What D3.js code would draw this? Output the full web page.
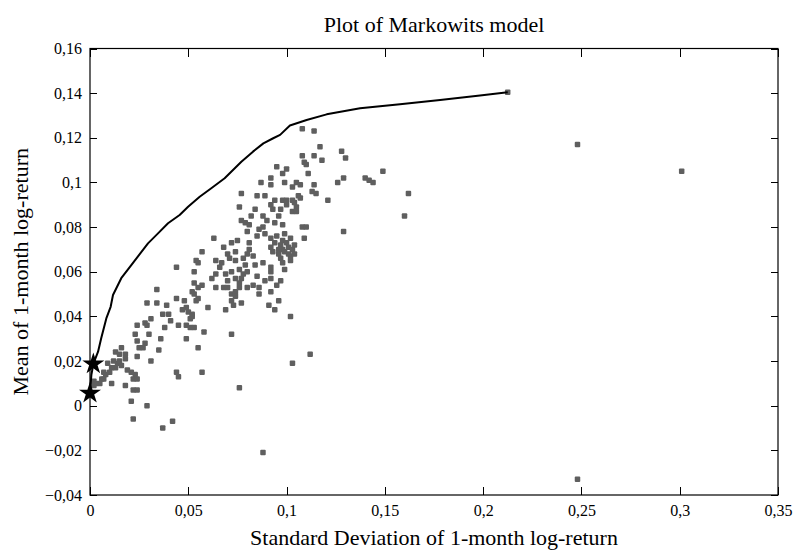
<!DOCTYPE html>
<html><head><meta charset="utf-8">
<script src="https://cdn.jsdelivr.net/npm/d3@7"></script>
<style>body{margin:0;background:#fff}svg{display:block}</style>
</head><body><svg id="c" width="794" height="551"></svg>
<script>
// Efficient frontier (std dev, mean)
const frontierSd   = [0.0000,0.0007,0.0017,0.0041,0.0057,0.0083,0.0105,0.0117,0.0159,0.0210,0.0295,0.0346,0.0397,0.0456,0.0499,0.0558,0.0617,0.0685,0.0770,0.0829,0.0882,0.0932,0.0967,0.1017,0.1102,0.1204,0.1374,0.1577,0.1781,0.1984,0.2125];
const frontierMean = [0.0057,0.0138,0.0187,0.0242,0.0302,0.0391,0.0443,0.0496,0.0571,0.0630,0.0727,0.0772,0.0817,0.0854,0.0891,0.0936,0.0974,0.1019,0.1093,0.1138,0.1175,0.1198,0.1213,0.1255,0.1280,0.1305,0.1332,0.1350,0.1369,0.1389,0.1404];
// Individual assets
const assetSd = [0.044,0.053,0.064,0.069,0.072,0.076,0.078,0.080,0.070,0.074,0.077,0.076,0.064,0.068,0.070,0.074,0.076,0.080,0.053,0.055,0.057,0.052,0.053,0.055,0.072,0.074,0.072,0.034,0.044,0.048,0.049,0.054,0.060,0.069,0.073,0.077,0.029,0.034,0.039,0.037,0.040,0.050,0.052,0.051,0.052,0.031,0.028,0.029,0.038,0.045,0.049,0.051,0.053,0.058,0.024,0.023,0.030,0.049,0.072,0.024,0.028,0.025,0.027,0.016,0.013,0.015,0.018,0.018,0.035,0.031,0.055,0.024,0.009,0.012,0.014,0.016,0.013,0.011,0.007,0.008,0.006,0.021,0.023,0.022,0.024,0.044,0.045,0.057,0.002,0.005,0.007,0.011,0.018,0.022,0.024,0.076,0.021,0.029,0.022,0.042,0.037,0.088,0.248,0.002,0.003,
  0.077,0.076,0.077,0.079,0.082,0.063,0.080,0.068,0.072,0.075,0.074,0.070,0.057,0.081,0.080,0.054,0.055,0.064,0.067,0.074,0.078,
  0.108,0.114,0.117,0.108,0.109,0.110,0.114,0.118,0.128,0.130,0.149,0.095,0.098,0.100,0.087,0.092,0.092,0.099,0.103,0.105,0.107,0.114,0.126,0.129,0.140,0.142,0.144,0.113,0.115,0.106,0.107,0.104,0.085,0.089,0.098,0.100,0.103,0.100,0.092,0.093,0.094,0.121,0.162,0.160,0.097,0.103,0.105,0.084,0.088,0.081,0.096,0.094,0.098,0.108,0.110,0.129,0.109,0.088,0.089,0.085,0.092,0.095,0.098,0.102,0.097,0.101,0.103,0.099,0.096,0.102,0.104,0.098,0.092,0.102,0.098,0.099,0.088,0.092,0.092,0.084,0.081,0.083,
  0.085,0.083,0.086,0.086,0.089,0.092,0.095,0.097,0.092,0.096,0.091,0.094,0.102,0.112,0.103,0.2125,0.248,0.301,
  0.100,0.096,0.094,0.101,0.097,0.104,0.099,0.093,0.062,0.066,0.071,0.079,0.047,0.041,0.036,0.019,0.015,0.010,0.090,0.086,0.111,0.105];
const assetMean = [0.062,0.060,0.059,0.059,0.060,0.061,0.059,0.060,0.056,0.057,0.057,0.055,0.053,0.053,0.053,0.051,0.053,0.053,0.055,0.053,0.054,0.051,0.050,0.048,0.050,0.049,0.047,0.052,0.048,0.047,0.044,0.047,0.044,0.043,0.045,0.046,0.046,0.046,0.045,0.041,0.041,0.042,0.041,0.039,0.040,0.039,0.037,0.036,0.035,0.036,0.036,0.035,0.035,0.033,0.036,0.032,0.032,0.030,0.032,0.029,0.028,0.026,0.026,0.026,0.024,0.023,0.023,0.021,0.025,0.020,0.026,0.022,0.019,0.020,0.019,0.018,0.017,0.017,0.015,0.014,0.012,0.015,0.014,0.012,0.012,0.015,0.013,0.015,0.011,0.010,0.012,0.010,0.009,0.007,0.007,0.008,0.002,0.000,-0.006,-0.007,-0.010,-0.021,-0.033,0.009,0.010,
  0.095,0.089,0.083,0.082,0.085,0.075,0.078,0.071,0.073,0.074,0.069,0.068,0.069,0.073,0.068,0.065,0.064,0.065,0.064,0.065,0.066,
  0.124,0.123,0.116,0.112,0.109,0.108,0.112,0.110,0.114,0.111,0.105,0.107,0.104,0.106,0.100,0.102,0.099,0.100,0.098,0.100,0.099,0.099,0.100,0.102,0.102,0.101,0.100,0.096,0.095,0.094,0.093,0.091,0.094,0.094,0.092,0.092,0.092,0.090,0.090,0.088,0.092,0.092,0.095,0.085,0.088,0.087,0.089,0.088,0.085,0.081,0.085,0.082,0.081,0.080,0.080,0.078,0.075,0.080,0.077,0.076,0.075,0.076,0.074,0.075,0.072,0.071,0.070,0.069,0.068,0.067,0.072,0.070,0.071,0.065,0.064,0.061,0.064,0.062,0.060,0.063,0.070,0.067,
  0.058,0.054,0.053,0.050,0.056,0.057,0.054,0.056,0.051,0.047,0.045,0.043,0.040,0.023,0.019,0.1404,0.117,0.105,
  0.073,0.070,0.073,0.068,0.066,0.068,0.077,0.069,0.057,0.062,0.066,0.063,0.043,0.038,0.030,0.016,0.020,0.015,0.083,0.079,0.104,0.087];
// Special portfolios (stars)
const starSd   = [0.0000, 0.0017];
const starMean = [0.0056, 0.0187];
// Ticks
const xTicks = [0,0.05,0.1,0.15,0.2,0.25,0.3,0.35];
const yTicks = [-0.04,-0.02,0,0.02,0.04,0.06,0.08,0.1,0.12,0.14,0.16];
const titleText = "Plot of Markowits model";
const xTitle = "Standard Deviation of 1-month log-return";
const yTitle = "Mean of 1-month log-return";

const FONT = "'Liberation Serif','Times New Roman',serif";
const L=90, R=778, T=48.5, B=495;
const x = d3.scaleLinear().domain([0,0.35]).range([L,R]);
const y = d3.scaleLinear().domain([-0.04,0.16]).range([B,T]);
const fmt = v => v===0 ? "0" : (v<0?"\u2212":"") + String(+Math.abs(v).toFixed(2)).replace(".",",");

const svg = d3.select("#c");

// assets
svg.append("g").attr("fill","#5f5f5f")
  .selectAll("rect").data(d3.range(assetSd.length)).join("rect")
  .attr("x", i => x(assetSd[i]) - 2.75)
  .attr("y", i => y(assetMean[i]) - 2.75)
  .attr("width",5.5).attr("height",5.5).attr("rx",1);

// frontier
svg.append("path")
  .datum(d3.range(frontierSd.length))
  .attr("fill","none").attr("stroke","#000").attr("stroke-width",2).attr("stroke-linejoin","round")
  .attr("d", d3.line().x(i => x(frontierSd[i])).y(i => y(frontierMean[i])));

// axes
const axStyle = g => { g.select(".domain").remove(); g.selectAll("line").attr("stroke","#000").attr("shape-rendering","crispEdges");
  g.selectAll("text").attr("font-family",FONT).attr("font-size",16).attr("fill","#000"); };
svg.append("g").attr("transform",`translate(0,${B})`)
  .call(d3.axisBottom(x).tickValues(xTicks).tickFormat(fmt).tickSizeInner(-8).tickSizeOuter(0).tickPadding(10)).call(axStyle);
svg.append("g").attr("transform",`translate(0,${T})`)
  .call(d3.axisTop(x).tickValues(xTicks).tickFormat("").tickSizeInner(-8).tickSizeOuter(0)).call(axStyle);
svg.append("g").attr("transform",`translate(${L},0)`)
  .call(d3.axisLeft(y).tickValues(yTicks).tickFormat(fmt).tickSizeInner(-7).tickSizeOuter(0).tickPadding(8)).call(axStyle);
svg.append("g").attr("transform",`translate(${R},0)`)
  .call(d3.axisRight(y).tickValues(yTicks).tickFormat("").tickSizeInner(-7).tickSizeOuter(0)).call(axStyle);
svg.append("rect").attr("x",L).attr("y",T).attr("width",R-L).attr("height",B-T)
  .attr("fill","none").attr("stroke","#000").attr("stroke-width",1.2);

// stars
svg.append("g").selectAll("path").data(d3.range(starSd.length)).join("path")
  .attr("transform", i => `translate(${x(starSd[i])},${y(starMean[i])})`)
  .attr("d", d3.symbol(d3.symbolStar, 150)).attr("fill","#000");

// titles
svg.append("text").attr("x",(L+R)/2).attr("y",32).attr("text-anchor","middle")
  .attr("font-family",FONT).attr("font-size",22).text(titleText);
svg.append("text").attr("x",(L+R)/2).attr("y",545).attr("text-anchor","middle")
  .attr("font-family",FONT).attr("font-size",22).text(xTitle);
svg.append("text").attr("transform",`translate(28,${(T+B)/2}) rotate(-90)`).attr("text-anchor","middle")
  .attr("font-family",FONT).attr("font-size",22).text(yTitle);
</script></body></html>
